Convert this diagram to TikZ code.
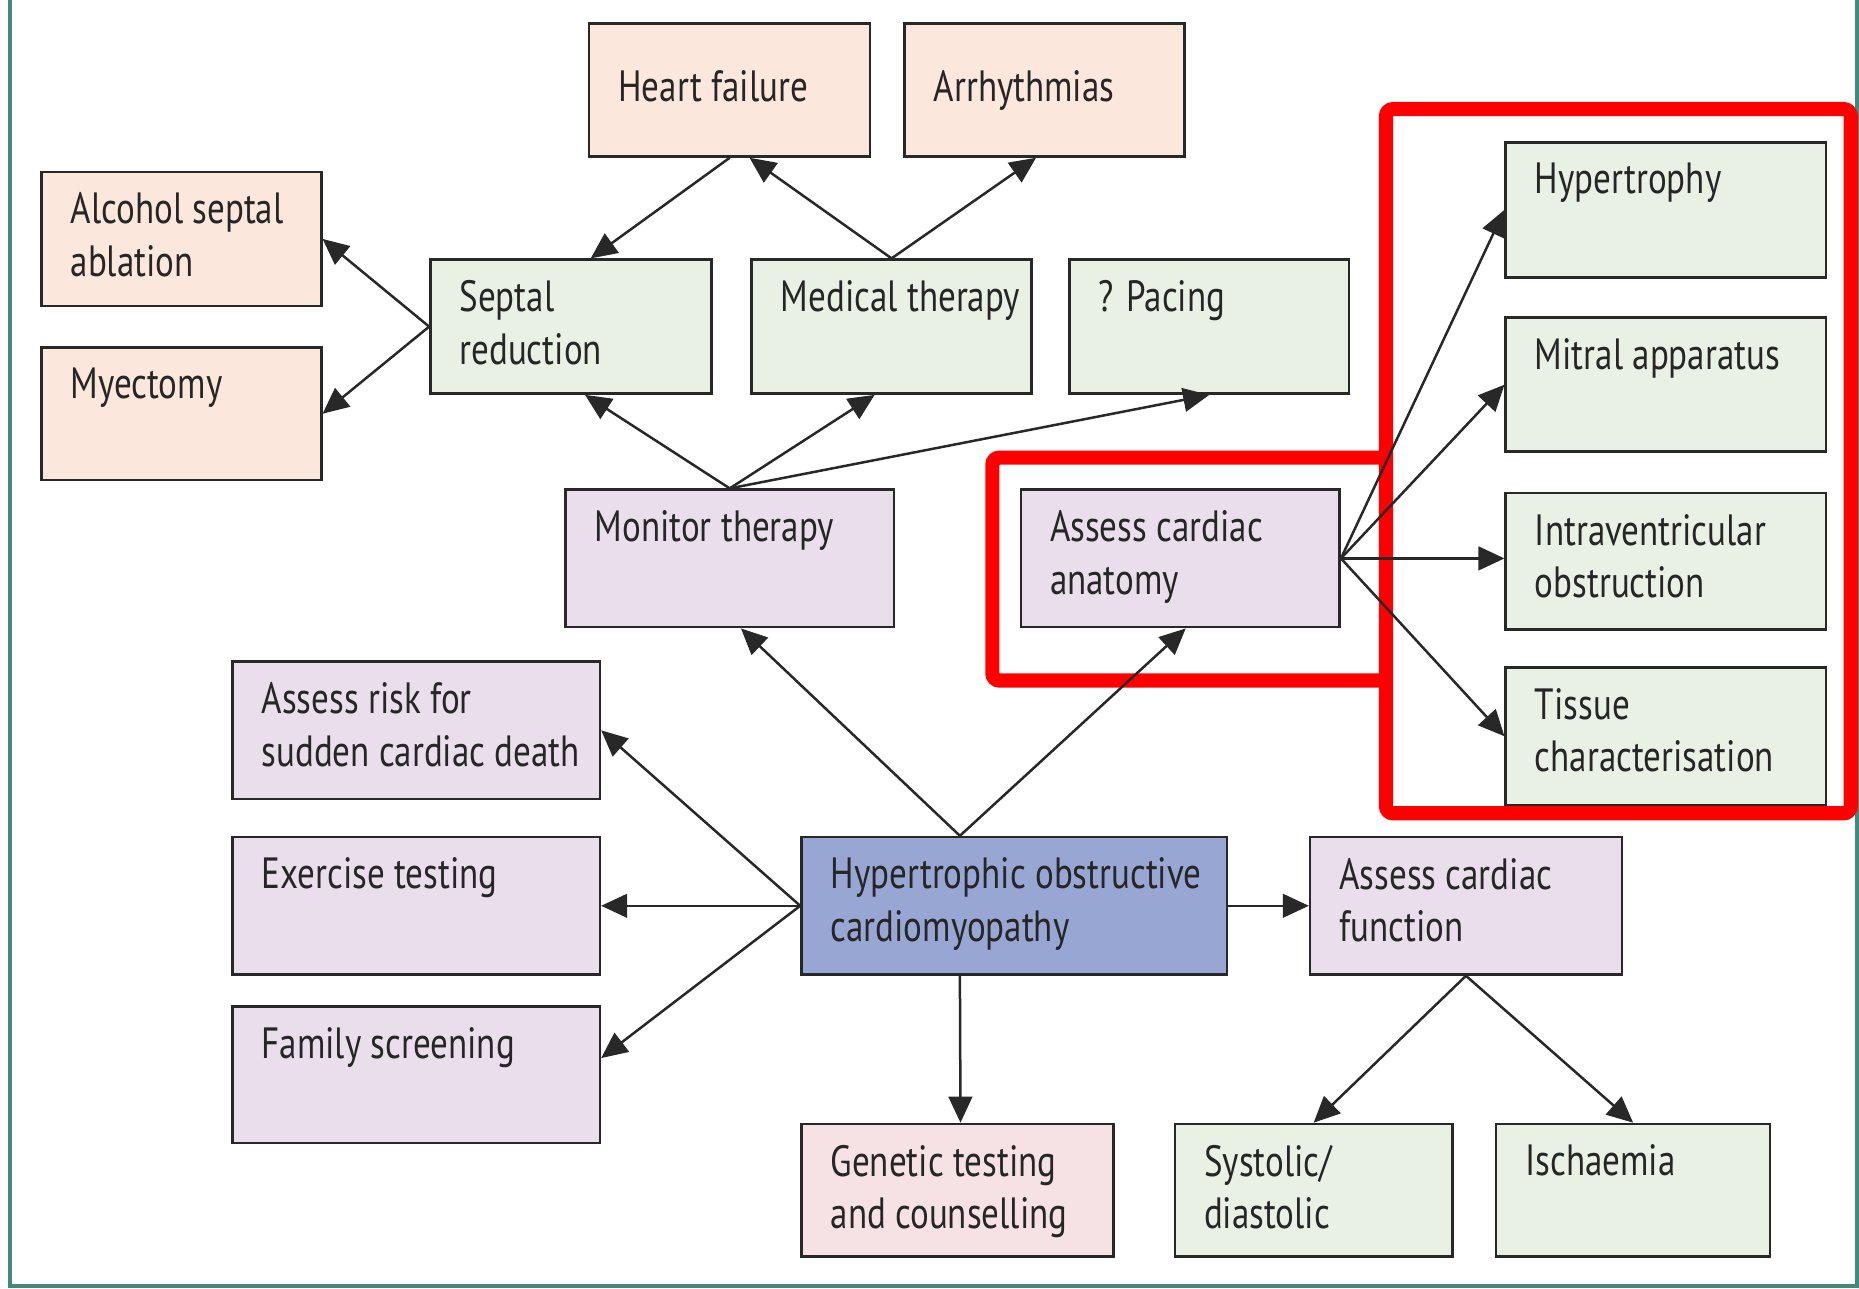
\documentclass[tikz,border=0pt]{standalone}
\usepackage{fontspec}
\setmainfont{PT Sans}[FakeStretch=0.8]
\usetikzlibrary{arrows.meta,calc}
\definecolor{peach}{RGB}{252,231,221}
\definecolor{mint}{RGB}{233,241,228}
\definecolor{lilac}{RGB}{234,222,236}
\definecolor{hblue}{RGB}{152,166,212}
\definecolor{rose}{RGB}{246,226,228}
\definecolor{framecol}{RGB}{70,135,125}
\definecolor{edgecol}{RGB}{40,40,40}
\begin{document}
\begin{tikzpicture}[x=0.1mm,y=-0.1mm,
		box/.style={draw=edgecol, line width=0.6pt, inner sep=0pt},
		lbl/.style={anchor=north west, inner sep=0pt, align=left, xshift=2.5mm, yshift=-1.8mm,
			font=\fontsize{10.5}{12.6}\selectfont, text=black!85},
		lblmid/.style={lbl, yshift=-2.2mm},
		arr/.style={draw=edgecol, line width=0.6pt, -{Triangle[length=2.2mm,width=2mm]}},
		redbox/.style={draw=red, line width=3.4pt, rounded corners=0.6mm}]
	\useasboundingbox (0,0) rectangle (1568,1087);
	\draw [framecol, line width=0.9pt] (8.5,0) -- (8.5,1085) -- (1566,1085) -- (1566,0);
	\node [box, fill=peach, minimum width=23.7mm, minimum height=11.2mm, label={[lblmid]north west:Heart failure}] (hf) at (615.5,76) {};
	\node [box, fill=peach, minimum width=23.6mm, minimum height=11.2mm, label={[lblmid]north west:Arrhythmias}] (arr) at (881,76) {};
	\node [box, fill=peach, minimum width=23.6mm, minimum height=11.3mm, label={[lbl]north west:{Alcohol septal\\ablation}}] (asa) at (153,201.5) {};
	\node [box, fill=peach, minimum width=23.6mm, minimum height=11.2mm, label={[lbl]north west:Myectomy}] (myec) at (153,349) {};
	\node [box, fill=mint, minimum width=23.7mm, minimum height=11.3mm, label={[lbl]north west:{Septal\\reduction}}] (sept) at (481.5,275.5) {};
	\node [box, fill=mint, minimum width=23.6mm, minimum height=11.3mm, label={[lbl]north west:Medical therapy}] (med) at (752,275.5) {};
	\node [box, fill=mint, minimum width=23.6mm, minimum height=11.3mm, label={[lbl]north west:? Pacing}] (pace) at (1020,275.5) {};
	\node [box, fill=lilac, minimum width=27.7mm, minimum height=11.6mm, label={[lbl]north west:Monitor therapy}] (mon) at (615.5,471) {};
	\node [box, fill=lilac, minimum width=26.9mm, minimum height=11.6mm, label={[lbl]north west:{Assess cardiac\\anatomy}}] (anat) at (995.5,471) {};
	\node [box, fill=mint, minimum width=27mm, minimum height=11.4mm, label={[lbl]north west:Hypertrophy}] (hyp) at (1405,177) {};
	\node [box, fill=mint, minimum width=27mm, minimum height=11.3mm, label={[lbl]north west:Mitral apparatus}] (mitral) at (1405,324.5) {};
	\node [box, fill=mint, minimum width=27mm, minimum height=11.5mm, label={[lbl]north west:{Intraventricular\\obstruction}}] (intra) at (1405,473.5) {};
	\node [box, fill=mint, minimum width=27mm, minimum height=11.6mm, label={[lbl]north west:{Tissue\\characterisation}}] (tissue) at (1405,621) {};
	\node [box, fill=lilac, minimum width=31mm, minimum height=11.6mm, label={[lbl]north west:{Assess risk for\\sudden cardiac death}}] (risk) at (351,616) {};
	\node [box, fill=lilac, minimum width=31mm, minimum height=11.6mm, label={[lbl]north west:Exercise testing}] (exer) at (351,764) {};
	\node [box, fill=lilac, minimum width=31mm, minimum height=11.5mm, label={[lbl]north west:Family screening}] (fam) at (351,906.5) {};
	\node [box, fill=hblue, minimum width=35.9mm, minimum height=11.6mm, label={[lbl]north west:{Hypertrophic obstructive\\cardiomyopathy}}] (hocm) at (855.5,764) {};
	\node [box, fill=lilac, minimum width=26.3mm, minimum height=11.6mm, label={[lbl]north west:{Assess cardiac\\function}}] (func) at (1236.5,764) {};
	\node [box, fill=rose, minimum width=26.3mm, minimum height=11.2mm, label={[lbl]north west:{Genetic testing\\and counselling}}] (gen) at (807.5,1004) {};
	\node [box, fill=mint, minimum width=23.4mm, minimum height=11.2mm, label={[lbl]north west:{Systolic/\\diastolic}}] (sys) at (1108,1004) {};
	\node [box, fill=mint, minimum width=23.1mm, minimum height=11.2mm, label={[lbl]north west:Ischaemia}] (isch) at (1377.5,1004) {};
	\draw [redbox] (1169,92) rectangle (1561,686);
	\draw [redbox] (1169,386) -- (837,386) -- (837,574) -- (1169,574);
	\draw [arr] (hf.south) -- ($(sept.north west)!0.57!(sept.north east)$);
	\draw [arr] (med.north) -- ($(hf.south west)!0.57!(hf.south east)$);
	\draw [arr] (med.north) -- ($(arr.south west)!0.47!(arr.south east)$);
	\draw [arr] (sept.west) -- (asa.east);
	\draw [arr] (sept.west) -- (myec.east);
	\draw [arr] (mon.north) -- ($(sept.south west)!0.55!(sept.south east)$);
	\draw [arr] (mon.north) -- ($(med.south west)!0.44!(med.south east)$);
	\draw [arr] (mon.north) -- (pace.south);
	\draw [arr] ($(hocm.north west)!0.373!(hocm.north east)$) -- ($(mon.south west)!0.534!(mon.south east)$);
	\draw [arr] ($(hocm.north west)!0.373!(hocm.north east)$) -- ($(anat.south west)!0.517!(anat.south east)$);
	\draw [arr] (hocm.west) -- (risk.east);
	\draw [arr] (hocm.west) -- (exer.east);
	\draw [arr] (hocm.west) -- ($(fam.north east)!0.38!(fam.south east)$);
	\draw [arr] ($(hocm.south west)!0.373!(hocm.south east)$) -- ($(gen.north west)!0.51!(gen.north east)$);
	\draw [arr] (hocm.east) -- (func.west);
	\draw [arr] (func.south) -- (sys.north);
	\draw [arr] (func.south) -- (isch.north);
	\draw [arr] (anat.east) -- (hyp.west);
	\draw [arr] (anat.east) -- (mitral.west);
	\draw [arr] (anat.east) -- (anat.east -| intra.west);
	\draw [arr] (anat.east) -- (tissue.west);
\end{tikzpicture}
\end{document}
